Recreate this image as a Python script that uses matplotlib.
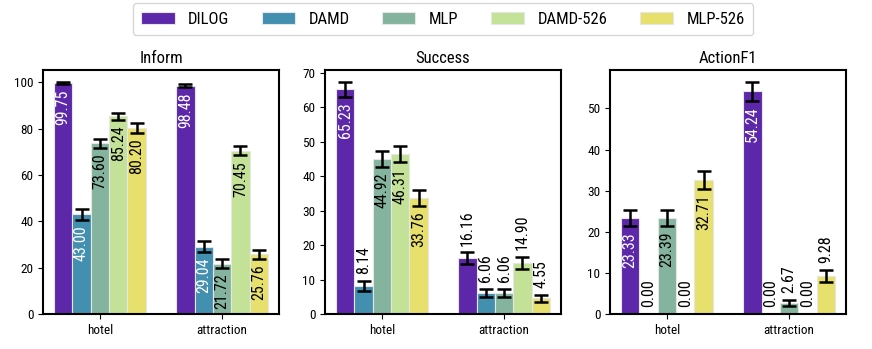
import matplotlib
matplotlib.use("Agg")
import matplotlib.pyplot as plt
import numpy as np

plt.rcParams['font.family'] = ['Roboto Condensed', 'Roboto', 'DejaVu Sans']

domains = ["hotel", "attraction"]
models = ["DILOG", "DAMD", "MLP", "DAMD-526", "MLP-526"]
colors = ["#5c27a8", "#438fb0", "#84b49d", "#c4e297", "#e7e06d"]
text_colors = ["white", "white", "black", "black", "black"]

metrics = ["Inform", "Success", "ActionF1"]

# values[metric][model] = [hotel, attraction]
inform = [[99.75, 98.48], [43.00, 29.04], [73.60, 21.72], [85.24, 70.45], [80.20, 25.76]]
inform_err = [[0.5, 0.7], [2.5, 2.3], [2.0, 2.0], [1.5, 2.0], [2.0, 2.0]]
success = [[65.23, 16.16], [8.14, 6.06], [44.92, 6.06], [46.31, 14.90], [33.76, 4.55]]
success_err = [[2.2, 1.7], [1.5, 1.2], [2.3, 1.2], [2.3, 1.7], [2.3, 1.0]]
actionf1 = [[23.33, 54.24], [0.00, 0.00], [23.39, 2.67], [0.00, 0.00], [32.71, 9.28]]
actionf1_err = [[2.0, 2.3], [0.0, 0.0], [2.0, 0.8], [0.0, 0.0], [2.2, 1.4]]

data = [inform, success, actionf1]
errs = [inform_err, success_err, actionf1_err]

fig = plt.figure(figsize=(8.72, 3.49), dpi=100)
lefts = [43, 325, 610]
axw = 236
bottom_px, top_px = 314, 70
W, H = 872, 349

width = 0.15
x = np.arange(len(domains))
handles = []
for k, metric in enumerate(metrics):
    ax = fig.add_axes([lefts[k] / W, 1 - bottom_px / H, axw / W, (bottom_px - top_px) / H])
    vals = np.array(data[k])
    er = np.array(errs[k])
    ymax = (vals + er).max() * 1.05
    for i, m in enumerate(models):
        pos = x + (i - 2) * width
        b = ax.bar(pos, vals[i], width, color=colors[i], edgecolor="#e6e6e6", linewidth=0.8,
                   label=m, zorder=2)
        if k == 0:
            handles.append(b)
        ax.errorbar(pos, vals[i], yerr=er[i], fmt="none", ecolor="black", elinewidth=1.8,
                     capsize=5, capthick=1.8, zorder=3)
        for j in range(len(domains)):
            v = vals[i][j]
            # tall bars get the label inside, short ones above the error bar
            if v > 20:
                ax.annotate(f"{v:.2f}", (pos[j], v - er[i][j]), xytext=(0, -4), textcoords="offset points",
                            rotation=90, ha="center", va="top", fontsize=11.5,
                            color=text_colors[i], zorder=4)
            else:
                ax.annotate(f"{v:.2f}", (pos[j], v + er[i][j]), xytext=(0, 5),
                            textcoords="offset points", rotation=90, ha="center",
                            va="bottom", fontsize=11.5, color="black", zorder=4)
    ax.set_xlim(-0.465, 1.465)
    ax.set_ylim(0, ymax)
    ax.set_xticks(x)
    ax.set_xticklabels(domains, fontsize=9.5)
    ax.tick_params(axis="y", labelsize=9.5)
    ax.set_title(metric, fontsize=12, pad=5)
    for s in ax.spines.values():
        s.set_linewidth(1.5)

fig.legend(handles, models, loc="center", bbox_to_anchor=(443 / W, 1 - 19 / H), ncol=5,
           fontsize=12, handlelength=2.0, handleheight=0.75, columnspacing=1.95,
           borderpad=0.5, frameon=True, edgecolor="#cccccc", fancybox=True)

fig.savefig("out.png", dpi=100)
